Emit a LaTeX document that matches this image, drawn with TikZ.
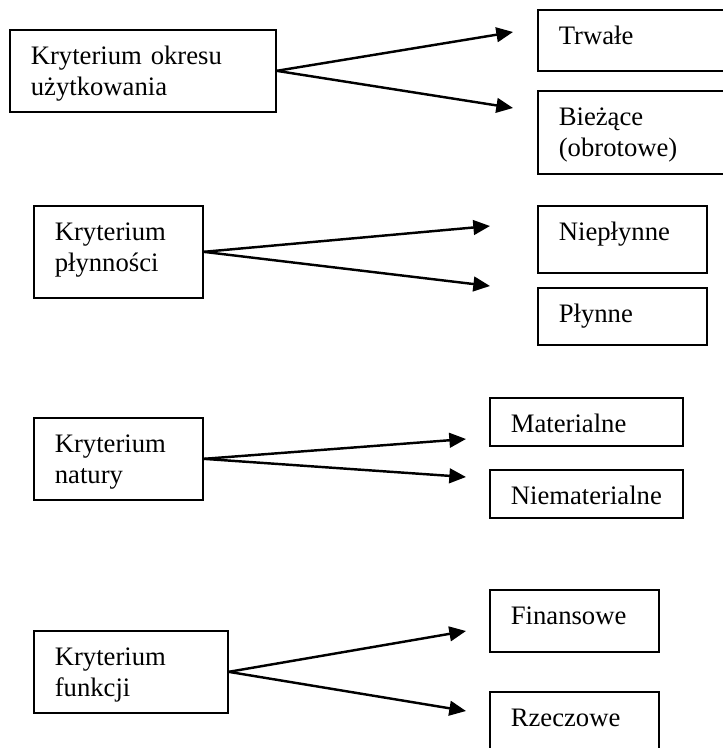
\documentclass[tikz,border=0pt]{standalone}
\usepackage{fontspec}
\setmainfont{Liberation Serif}
\usetikzlibrary{arrows.meta}

% Pixel unit
\def\pxu{0.45pt}

\tikzset{
    kbox/.style 2 args={draw, line width=0.75pt, anchor=north west,
        inner xsep=21*\pxu, inner ysep=0pt, align=left,
        text width=#1*\pxu-42*\pxu, text height=35*\pxu, text depth=#2*\pxu-35*\pxu,
        font=\fontsize{12pt}{14pt}\selectfont},
    arr/.style={-{Triangle[length=7.5pt, width=6.6pt]}, line width=1.1pt}
}

\begin{document}
\begin{tikzpicture}[x=0.45pt, y=-0.45pt]

    \useasboundingbox (0,0) rectangle (723,748);

    % Criteria
    \node[kbox={266}{82}] (okres) at (9,29) {Kryterium okresu\\użytkowania};
    \node[kbox={169}{92}] (plynnosc) at (33,205) {Kryterium\\płynności};
    \node[kbox={169}{82}] (natura) at (33,417) {Kryterium\\natury};
    \node[kbox={194}{82}] (funkcja) at (33,630) {Kryterium\\funkcji};

    % Kinds
    \node[kbox={200}{61}] (trwale) at (537,9) {Trwałe};
    \node[kbox={200}{83}] (biezace) at (537,90) {Bieżące\\(obrotowe)};
    \node[kbox={169}{67}] (nieplynne) at (537,205) {Niepłynne};
    \node[kbox={169}{57}] (plynne) at (537,287) {Płynne};
    \node[kbox={193}{48}] (material) at (489,397) {Materialne};
    \node[kbox={193}{48}] (niematerial) at (489,469) {Niematerialne};
    \node[kbox={169}{62}] (finansowe) at (489,589) {Finansowe};
    \node[kbox={169}{80}] (rzeczowe) at (489,691) {Rzeczowe};

    % Arrow ends
    \coordinate (okres-up) at (513,32);
    \coordinate (okres-down) at (513,108);
    \coordinate (plynnosc-up) at (490,226);
    \coordinate (plynnosc-down) at (490,286);
    \coordinate (natura-up) at (466,439);
    \coordinate (natura-down) at (466,477);
    \coordinate (funkcja-up) at (466,631);
    \coordinate (funkcja-down) at (466,711);

    % Arrows
    \foreach \k in {okres, plynnosc, natura, funkcja} {
        \draw[arr] (\k.east) -- (\k-up);
        \draw[arr] (\k.east) -- (\k-down);
    }

\end{tikzpicture}
\end{document}
